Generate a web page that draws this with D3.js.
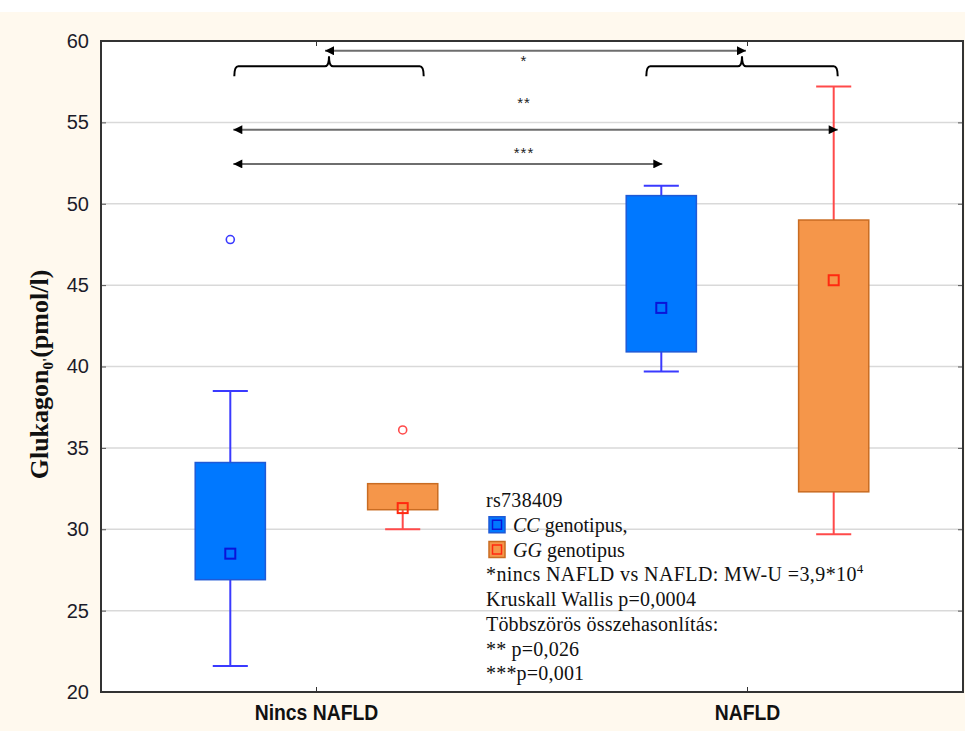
<!DOCTYPE html>
<html>
<head>
<meta charset="utf-8">
<script src="https://cdn.jsdelivr.net/npm/d3@7"></script>
<style>
  html, body { margin: 0; padding: 0; background: #ffffff; }
  svg { display: block; }
</style>
</head>
<body>
<svg id="chart" width="965" height="731"></svg>
<script>
// Categories and series
const groups = ["Nincs NAFLD", "NAFLD"];
const genotypes = ["CC", "GG"];
const boxGroup = ["Nincs NAFLD", "Nincs NAFLD", "NAFLD", "NAFLD"];
const boxGenotype = ["CC", "GG", "CC", "GG"];
const whiskerLow = [21.6, 30.0, 39.7, 29.7];
const q1 = [26.9, 31.2, 40.9, 32.3];
const median = [28.5, 31.3, 43.6, 45.3];
const q3 = [34.1, 32.8, 50.5, 49.0];
const whiskerHigh = [38.5, 32.8, 51.1, 57.2];
const outliers = [[47.8], [36.1], [], []];
const yTicks = [20, 25, 30, 35, 40, 45, 50, 55, 60];

// Significance annotations
const arrowLabels = ["*", "**", "***"];
const legendTitle = "rs738409";
const legendNotes = [
  "Kruskall Wallis p=0,0004",
  "Többszörös összehasonlítás:",
  "** p=0,026",
  "***p=0,001"
];

const W = 965, H = 731;
const plot = { left: 101, right: 963, top: 41, bottom: 692 };

const svg = d3.select("#chart");

// page background
svg.append("rect").attr("x", 0).attr("y", 12).attr("width", W).attr("height", H - 12)
  .attr("fill", "#fff9ee");
svg.append("rect").attr("x", plot.left).attr("y", plot.top)
  .attr("width", plot.right - plot.left).attr("height", plot.bottom - plot.top)
  .attr("fill", "#ffffff");

const x = d3.scaleBand().domain(groups).range([plot.left, plot.right]).padding(0);
const xInner = d3.scalePoint().domain(genotypes).range([0, x.bandwidth()]).padding(0.75);
const y = d3.scaleLinear().domain([20, 60]).range([plot.bottom, plot.top]);

const boxW = x.bandwidth() * 70 / 430;
const capW = boxW / 2;
const cx = i => x(boxGroup[i]) + xInner(boxGenotype[i]);
const gx = g => x(g) + x.bandwidth() / 2;

// gridlines
svg.append("g").selectAll("line").data(yTicks.filter(t => t > 20 && t < 60)).join("line")
  .attr("x1", plot.left).attr("x2", plot.right)
  .attr("y1", d => y(d)).attr("y2", d => y(d))
  .attr("stroke", "#d9d9d9").attr("stroke-width", 1.5);

// axes
const yAxis = svg.append("g").attr("transform", `translate(${plot.left},0)`)
  .call(d3.axisLeft(y).tickValues(yTicks).tickSize(-5).tickPadding(12));
yAxis.select(".domain").remove();
yAxis.selectAll("line").attr("stroke", "#555").attr("stroke-width", 1);
yAxis.selectAll("text").attr("font-family", "'Liberation Sans', Arial, sans-serif")
  .attr("font-size", 20).attr("fill", "#1c1c2a");

const yAxisR = svg.append("g").attr("transform", `translate(${plot.right},0)`)
  .call(d3.axisRight(y).tickValues(yTicks).tickSize(-5).tickFormat(""));
yAxisR.select(".domain").remove();
yAxisR.selectAll("line").attr("stroke", "#555");

const xAxis = svg.append("g").attr("transform", `translate(0,${plot.bottom})`)
  .call(d3.axisBottom(x).tickSize(-5).tickPadding(12));
xAxis.select(".domain").remove();
xAxis.selectAll("line").attr("stroke", "#333");
xAxis.selectAll("text").attr("font-family", "'Liberation Sans', Arial, sans-serif")
  .attr("font-size", 22).attr("font-weight", "bold").attr("fill", "#111")
  .attr("transform", "scale(0.88,1)");

const xAxisT = svg.append("g").attr("transform", `translate(0,${plot.top})`)
  .call(d3.axisTop(x).tickSize(-5).tickFormat(""));
xAxisT.select(".domain").remove();
xAxisT.selectAll("line").attr("stroke", "#333");

// frame
svg.append("rect").attr("x", plot.left).attr("y", plot.top)
  .attr("width", plot.right - plot.left).attr("height", plot.bottom - plot.top)
  .attr("fill", "none").attr("stroke", "#333").attr("stroke-width", 2);

// y title
const yt = svg.append("text")
  .attr("transform", `translate(48,${(plot.top + plot.bottom) / 2 + 8}) rotate(-90)`)
  .attr("text-anchor", "middle")
  .attr("font-family", "'Liberation Serif', 'Times New Roman', serif")
  .attr("font-weight", "bold").attr("font-size", 26).attr("fill", "#111");
yt.append("tspan").text("Glukagon");
yt.append("tspan").attr("font-size", 15).attr("dy", 5).text("0'");
yt.append("tspan").attr("dy", -5).text("(pmol/l)");

// colours per genotype
const palette = {
  CC: { fill: "#0078ff", edge: "#1f5ad6", whisker: "#3a3aff", med: "#0a14d8" },
  GG: { fill: "#f5964a", edge: "#c96c22", whisker: "#ff4a4a", med: "#ff2a10" }
};

const idx = d3.range(boxGroup.length);
const boxes = svg.append("g").selectAll("g").data(idx).join("g");

// whiskers, boxes, medians, outliers
boxes.each(function (i) {
  const g = d3.select(this);
  const c = palette[boxGenotype[i]];
  const xc = cx(i);
  if (whiskerHigh[i] > q3[i]) {
    g.append("line").attr("x1", xc).attr("x2", xc).attr("y1", y(q3[i])).attr("y2", y(whiskerHigh[i]))
      .attr("stroke", c.whisker).attr("stroke-width", 2);
    g.append("line").attr("x1", xc - capW / 2).attr("x2", xc + capW / 2)
      .attr("y1", y(whiskerHigh[i])).attr("y2", y(whiskerHigh[i]))
      .attr("stroke", c.whisker).attr("stroke-width", 2);
  }
  if (whiskerLow[i] < q1[i]) {
    g.append("line").attr("x1", xc).attr("x2", xc).attr("y1", y(q1[i])).attr("y2", y(whiskerLow[i]))
      .attr("stroke", c.whisker).attr("stroke-width", 2);
    g.append("line").attr("x1", xc - capW / 2).attr("x2", xc + capW / 2)
      .attr("y1", y(whiskerLow[i])).attr("y2", y(whiskerLow[i]))
      .attr("stroke", c.whisker).attr("stroke-width", 2);
  }
  g.append("rect").attr("x", xc - boxW / 2).attr("y", y(q3[i]))
    .attr("width", boxW).attr("height", y(q1[i]) - y(q3[i]))
    .attr("fill", c.fill).attr("stroke", c.edge).attr("stroke-width", 1.5);
  g.append("rect").attr("x", xc - 5).attr("y", y(median[i]) - 5)
    .attr("width", 10).attr("height", 10)
    .attr("fill", "none").attr("stroke", c.med).attr("stroke-width", 2);
  g.selectAll("circle").data(outliers[i]).join("circle")
    .attr("cx", xc).attr("cy", d => y(d)).attr("r", 4)
    .attr("fill", "none").attr("stroke", c.whisker).attr("stroke-width", 1.6);
});

// curly braces over each group
function bracePath(x1, x2, yv) {
  const ym = y(yv);
  const mid = (x1 + x2) / 2;
  const d = 10, r = 4;
  return `M${x1},${ym + d} Q${x1},${ym} ${x1 + r},${ym} L${mid - r},${ym} Q${mid},${ym} ${mid},${ym - d}` +
         ` Q${mid},${ym} ${mid + r},${ym} L${x2 - r},${ym} Q${x2},${ym} ${x2},${ym + d}`;
}
const braceLevel = 58.45;
const braces = [
  [cx(0) + 4, cx(1) + 21],
  [cx(2) - 15, cx(3) + 4]
];
svg.append("g").selectAll("path").data(braces).join("path")
  .attr("d", d => bracePath(d[0], d[1], braceLevel))
  .attr("fill", "none").attr("stroke", "#000").attr("stroke-width", 2);

// double-headed arrows
const defs = svg.append("defs");
defs.append("marker").attr("id", "ah").attr("viewBox", "0 0 10 10")
  .attr("refX", 10).attr("refY", 5).attr("markerWidth", 10).attr("markerHeight", 9)
  .attr("markerUnits", "userSpaceOnUse").attr("orient", "auto-start-reverse")
  .append("path").attr("d", "M0,0 L10,5 L0,10 Z").attr("fill", "#000");

const arrows = [
  { x1: (braces[0][0] + braces[0][1]) / 2 - 4, x2: (braces[1][0] + braces[1][1]) / 2 + 4, v: 59.4, tv: 58.95 },
  { x1: cx(0) + 3, x2: cx(3) + 4, v: 54.55, tv: 56.35 },
  { x1: cx(0) + 3, x2: cx(2) + 1, v: 52.45, tv: 53.3 }
];
svg.append("g").selectAll("line").data(arrows).join("line")
  .attr("x1", d => d.x1).attr("x2", d => d.x2)
  .attr("y1", d => y(d.v)).attr("y2", d => y(d.v))
  .attr("stroke", "#6e6e6e").attr("stroke-width", 2)
  .attr("marker-start", "url(#ah)").attr("marker-end", "url(#ah)");
svg.append("g").selectAll("text").data(arrows).join("text")
  .attr("x", (gx(groups[0]) + gx(groups[1])) / 2 - 8).attr("y", d => y(d.tv))
  .attr("dy", "0.5em").attr("text-anchor", "middle")
  .attr("font-family", "'Liberation Sans', Arial, sans-serif").attr("font-size", 15)
  .attr("letter-spacing", 1).attr("fill", "#222")
  .text((d, i) => arrowLabels[i]);

// legend and statistics text
const lg = svg.append("g").attr("font-family", "'Liberation Serif', 'Times New Roman', serif")
  .attr("font-size", 20).attr("fill", "#111");
const lx = 486, ly0 = 507, lstep = 24.75;
lg.append("text").attr("x", lx).attr("y", ly0).attr("letter-spacing", 0.3).text(legendTitle);
genotypes.forEach((gt, k) => {
  const c = palette[gt];
  const yy = ly0 + lstep * (k + 1);
  lg.append("rect").attr("x", lx + 3).attr("y", yy - 15).attr("width", 16).attr("height", 16)
    .attr("fill", c.fill).attr("stroke", c.edge).attr("stroke-width", 1.5);
  lg.append("rect").attr("x", lx + 6.5).attr("y", yy - 11.5).attr("width", 9).attr("height", 9)
    .attr("fill", "none").attr("stroke", c.med).attr("stroke-width", 1.5);
  const t = lg.append("text").attr("x", lx + 27).attr("y", yy);
  t.append("tspan").attr("font-style", "italic").text(gt);
  t.append("tspan").text(k === 0 ? " genotipus," : " genotipus");
});
const mw = lg.append("text").attr("x", lx).attr("y", ly0 + lstep * 3).attr("letter-spacing", 0.4);
mw.append("tspan").text("*nincs NAFLD vs NAFLD: MW-U =3,9*10");
mw.append("tspan").attr("font-size", 13).attr("dy", -8).text("4");
legendNotes.forEach((s, k) => {
  lg.append("text").attr("x", lx).attr("y", ly0 + lstep * (4 + k)).attr("letter-spacing", 0.2).text(s);
});
</script>
</body>
</html>
